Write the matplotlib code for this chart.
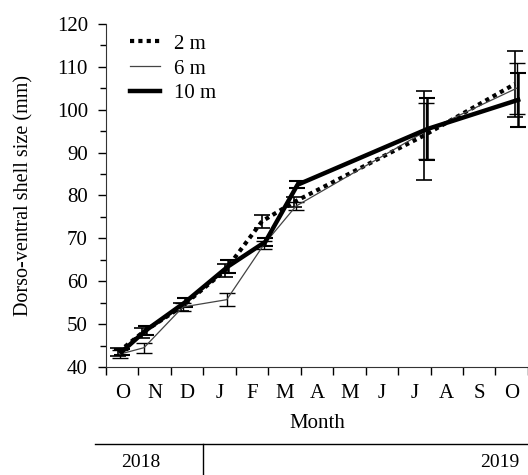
import matplotlib.pyplot as plt
from matplotlib.lines import Line2D
from matplotlib.ticker import MultipleLocator

# sampling dates, in months since 1 Oct 2018
days = [0.43, 1.17, 2.37, 3.72, 4.86, 5.85, 9.85, 12.65]
months = ["O", "N", "D", "J", "F", "M", "A", "M", "J", "J", "A", "S", "O"]

size_2m = [43.5, 48.0, 54.0, 62.5, 74.0, 78.5, 94.0, 106.0]
err_2m = [1.0, 1.2, 1.0, 1.5, 1.5, 1.2, 10.3, 7.6]
size_6m = [43.0, 44.5, 54.0, 55.7, 68.5, 77.5, 95.0, 105.0]
err_6m = [1.0, 1.2, 1.0, 1.5, 1.0, 1.0, 6.5, 6.0]
size_10m = [43.5, 48.5, 55.0, 63.5, 69.2, 82.5, 95.5, 102.3]
err_10m = [0.8, 1.0, 1.0, 1.5, 1.0, 0.8, 7.3, 6.3]

plt.rcParams["font.family"] = "Liberation Serif"
plt.rcParams["font.size"] = 15

fig = plt.figure(figsize=(5.28, 4.75), dpi=100)
ax = fig.add_axes([0.2008, 0.2274, 0.799, 0.7221])

ax.errorbar([d - 0.05 for d in days], size_2m, yerr=err_2m, color="black",
            lw=3, ls=(0, (1, 1)), elinewidth=1.2, capsize=6, capthick=1.2,
            label="2 m")
ax.errorbar(days, size_6m, yerr=err_6m, color="#444444", lw=0.9,
            elinewidth=1.0, ecolor="black", capsize=6, capthick=1.0,
            label="6 m")
ax.errorbar([d + 0.05 for d in days], size_10m, yerr=err_10m,
            color="black", lw=3.2, elinewidth=1.8, capsize=6, capthick=1.5,
            label="10 m")

ax.set_xlim(0, 13)
ax.set_ylim(40, 120)
ax.set_xticks(range(14))
ax.set_xticklabels([])
ax.set_xticks([i + 0.5 for i in range(13)], months, minor=True)
ax.tick_params(axis="x", which="major", length=6, width=1)
ax.tick_params(axis="x", which="minor", length=0, pad=12)
ax.yaxis.set_major_locator(MultipleLocator(10))
ax.yaxis.set_minor_locator(MultipleLocator(5))
ax.tick_params(axis="y", which="major", length=6, width=1, pad=7)
ax.tick_params(axis="y", which="minor", length=4, width=1)
for s in ["top", "right"]:
    ax.spines[s].set_visible(False)
for s in ["left", "bottom"]:
    ax.spines[s].set_color("#333333")

ax.set_xlabel("Month", fontsize=15, labelpad=8)
ax.set_ylabel("Dorso-ventral shell size (mm)", fontsize=14.5, labelpad=17)

handles, labels = ax.get_legend_handles_labels()
handles = [h[0] for h in handles]
ax.legend(handles, labels, loc="upper left", frameon=False,
          handlelength=1.45, handletextpad=0.65, labelspacing=0.25,
          bbox_to_anchor=(0.012, 1.025))

# year band below the axis
fig.add_artist(Line2D([0.18, 1.0], [0.0653, 0.0653], color="black", lw=1))
fig.add_artist(Line2D([0.3845, 0.3845], [0.0, 0.0653], color="black", lw=1))
fig.text(0.267, 0.027, "2018", ha="center", va="center", fontsize=14)
fig.text(0.984, 0.027, "2019", ha="right", va="center", fontsize=14)

fig.savefig("out.png", dpi=100)
